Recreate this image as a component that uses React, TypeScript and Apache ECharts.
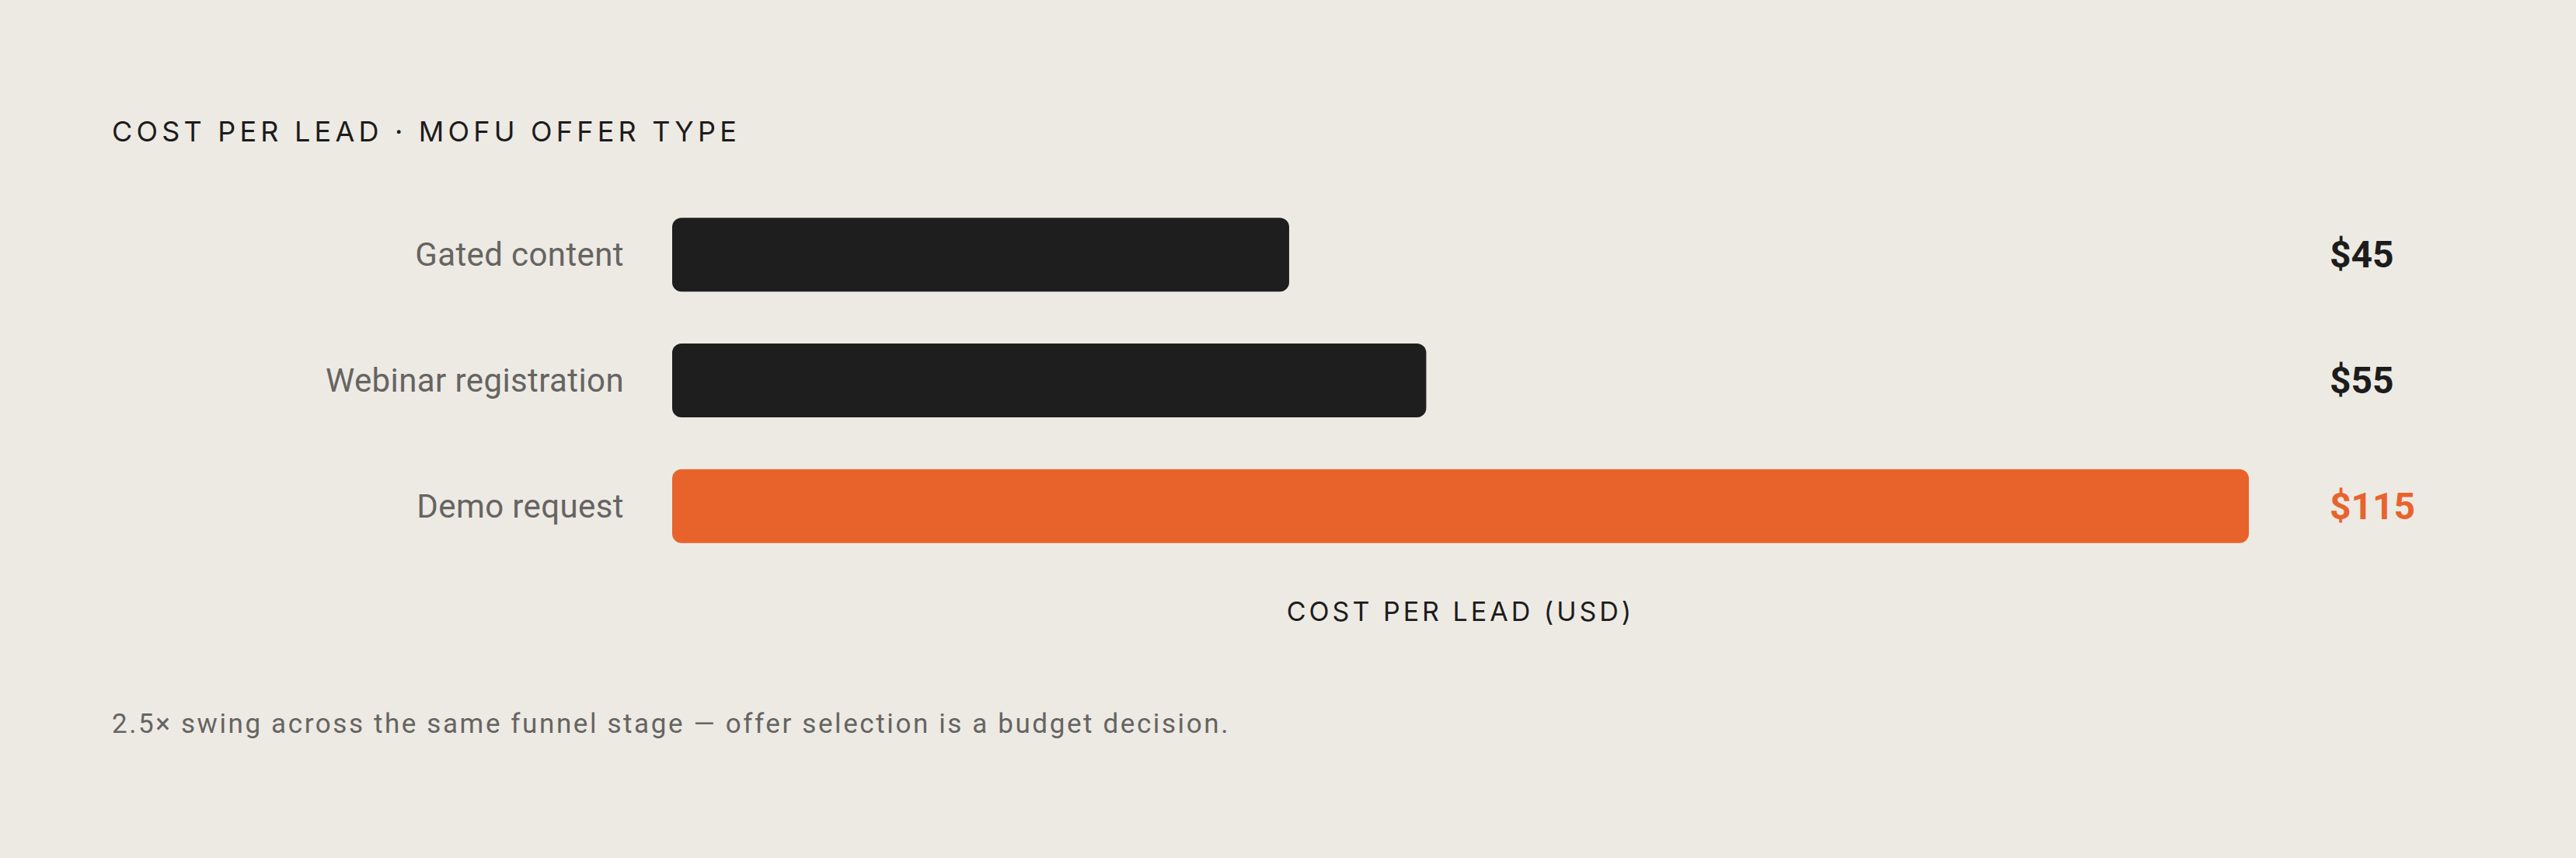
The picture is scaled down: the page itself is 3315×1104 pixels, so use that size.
import { useEffect, useRef } from 'react'

import * as echarts from 'echarts'

const categories = ['Gated content', 'Webinar registration', 'Demo request']
const costs = [45, 55, 115]
const highlighted = [false, false, true]
const titleText = 'COST PER LEAD · MOFU OFFER TYPE'
const axisTitle = 'COST PER LEAD (USD)'
const footnote = '2.5× swing across the same funnel stage — offer selection is a budget decision.'

const DARK = '#1e1e1e'
const ORANGE = '#e8632c'
const GREY = '#666462'

const App = () => {
  const main = useRef<HTMLDivElement>(null)
  useEffect(() => {
    const option = {
      animation: false,
      backgroundColor: '#edeae4',
      title: {
        text: titleText,
        left: 139,
        top: 146,
        textStyle: {
          fontFamily: 'Inter',
          fontSize: 36,
          fontWeight: 400,
          color: '#1c1c1c',
        },
      },
      grid: {
        left: 865,
        right: 421,
        top: 247,
        bottom: 372,
      },
      xAxis: {
        type: 'value',
        min: 0,
        max: 115,
        name: axisTitle,
        nameLocation: 'middle',
        nameGap: 37,
        nameTextStyle: {
          fontFamily: 'Inter',
          fontSize: 34,
          color: '#1c1c1c',
        },
        axisLine: { show: false },
        axisTick: { show: false },
        axisLabel: { show: false },
        splitLine: { show: false },
      },
      yAxis: [
        {
          type: 'category',
          inverse: true,
          data: categories,
          axisLine: { show: false },
          axisTick: { show: false },
          axisLabel: {
            margin: 62,
            fontFamily: 'Roboto',
            fontSize: 42,
            color: GREY,
          },
        },
        {
          type: 'category',
          inverse: true,
          position: 'right',
          data: categories,
          axisLine: { show: false },
          axisTick: { show: false },
          axisLabel: {
            margin: 104,
            formatter: (_v: string, i: number) =>
              `{${highlighted[i] ? 'hi' : 'n'}|$${costs[i]}}`,
            rich: {
              n: { fontFamily: 'Roboto', fontSize: 48, fontWeight: 700, color: '#1c1c1c' },
              hi: { fontFamily: 'Roboto', fontSize: 48, fontWeight: 700, color: ORANGE },
            },
          },
        },
      ],
      series: [
        {
          type: 'bar',
          barWidth: 95,
          data: costs.map((v, i) => ({
            value: v,
            itemStyle: { color: highlighted[i] ? ORANGE : DARK, borderRadius: 12 },
          })),
        },
      ],
      graphic: [
        {
          type: 'text',
          left: 144,
          top: 914,
          style: {
            text: footnote,
            fontFamily: 'Roboto',
            fontSize: 35,
            fill: GREY,
          },
        },
      ],
    }
    const myCharts = echarts.init(main.current, null, { renderer: 'svg' })
    myCharts.setOption(option)

    // tracked (letter-spaced) type, as in the original layout
    const spacing: Record<string, number> = {
      [titleText]: 5.2,
      [axisTitle]: 4,
      [footnote]: 2.6,
    }
    categories.forEach((c) => (spacing[c] = 0.4))
    main.current?.querySelectorAll('text').forEach((t) => {
      const s = spacing[t.textContent || '']
      if (s) t.setAttribute('letter-spacing', String(s))
    })

    return () => {
      myCharts.dispose()
    }
  }, [])
  return (
    <>
      <div
        ref={main}
        style={{ position: 'fixed', left: 0, top: 0, width: '100vw', height: '100vh' }}
      ></div>
    </>
  )
}

export default App
